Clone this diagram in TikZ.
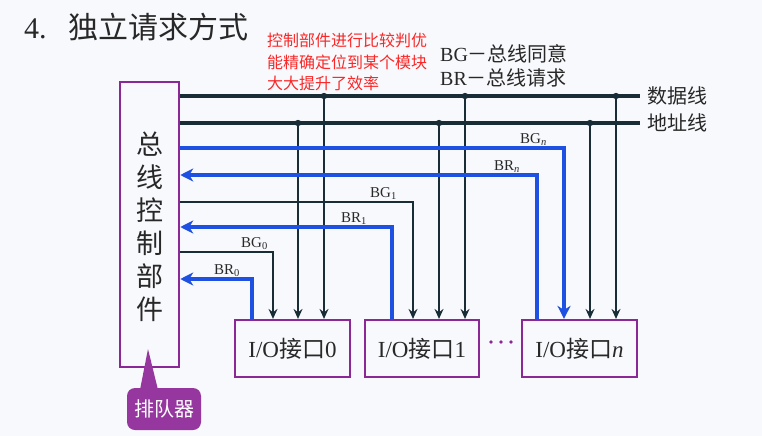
\documentclass[tikz,border=0pt]{standalone}
\usepackage{fontspec}
\setmainfont{Liberation Serif}
\newfontfamily\cjk{Noto Sans CJK SC}
\usetikzlibrary{arrows.meta}
\definecolor{bgc}{RGB}{248,249,252}
\definecolor{purp}{RGB}{140,40,150}
\definecolor{calc}{RGB}{150,55,160}
\definecolor{lineblk}{RGB}{25,45,55}
\definecolor{sigblue}{RGB}{30,80,225}
\definecolor{redc}{RGB}{250,40,40}
\definecolor{txt}{RGB}{40,40,40}
\tikzset{
  blkt/.tip={Stealth[length=10pt,width=9pt,inset=3.5pt]},
  blut/.tip={Stealth[length=13pt,width=13pt,inset=4pt]},
  bus/.style={line width=3.6pt,draw=lineblk},
  sig/.style={line width=1.8pt,draw=lineblk,-blkt},
  blu/.style={line width=4.2pt,draw=sigblue,-blut},
  iobox/.style={draw=purp,line width=2.2pt,minimum height=57pt,inner sep=0pt,
    font=\fontsize{23}{23}\selectfont,text=txt},
  siglab/.style={anchor=base east,inner sep=0pt,font=\fontsize{15}{15}\selectfont,text=txt},
  leg/.style={anchor=base west,inner sep=0pt,font=\fontsize{20}{20}\selectfont,text=txt},
  note/.style={anchor=base west,inner sep=0pt,font=\cjk\fontsize{16}{16}\selectfont,text=redc},
  dot/.style={fill=lineblk}
}
\begin{document}
\begin{tikzpicture}[x=1pt,y=-1pt]
\fill[bgc] (0,0) rectangle (762,436);
\useasboundingbox (0,0) rectangle (762,436);

% title
\node[anchor=base west,inner sep=0pt,font=\fontsize{30}{30}\selectfont,text=txt] (title) at (24,39)
  {4.\hspace{22pt}{\cjk 独立请求方式}};

% red note
\node[note] (note1) at (267,47) {控制部件进行比较判优};
\node[note] (note2) at (267,68) {能精确定位到某个模块};
\node[note] (note3) at (267,89) {大大提升了效率};

% legend
\node[leg] (legbg) at (440,61) {BG{\cjk －总线同意}};
\node[leg] (legbr) at (440,85) {BR{\cjk －总线请求}};

% controller
\node[draw=purp,line width=2.5pt,minimum width=59pt,minimum height=285pt,inner sep=0pt] (ctl) at (149.5,224.5) {};
\node[align=center,inner sep=0pt,font=\cjk\fontsize{27}{33}\selectfont,text=txt] (ctltext) at (149.5,227)
  {总\\线\\控\\制\\部\\件};

% I/O boxes
\node[iobox,minimum width=115pt] (box0) at (292.5,348.5) {I/O{\cjk 接口}0};
\node[iobox,minimum width=114pt] (box1) at (422,348.5) {I/O{\cjk 接口}1};
\node[iobox,minimum width=115pt] (boxn) at (579.5,348.5) {I/O{\cjk 接口}\textit{n}};
\fill[purp] (491,342) circle (1.8) (501,342) circle (1.8) (511,342) circle (1.8);

% buses
\coordinate (dR) at (640,96);
\coordinate (aR) at (640,123);
\draw[bus] (ctl.east |- dR) -- (dR);
\draw[bus] (ctl.east |- aR) -- (aR);
\node[anchor=west,inner sep=0pt,font=\cjk\fontsize{20}{20}\selectfont,text=txt] (dlab) at ([xshift=7pt]dR) {数据线};
\node[anchor=west,inner sep=0pt,font=\cjk\fontsize{20}{20}\selectfont,text=txt] (alab) at ([xshift=7pt]aR) {地址线};

% bus taps
\coordinate (ja0) at (298,123);
\coordinate (jd0) at (324,96);
\coordinate (ja1) at (439,123);
\coordinate (jd1) at (465,96);
\coordinate (jan) at (590,123);
\coordinate (jdn) at (616,96);
\foreach \j/\b in {ja0/box0,jd0/box0,ja1/box1,jd1/box1,jan/boxn,jdn/boxn}{
  \draw[sig] (\j) -- (\j |- \b.north);
  \fill[lineblk] (\j) circle (3.2);
}

% grant / request lines
\coordinate (bgn) at (564,148);
\coordinate (brn) at (537,175);
\coordinate (bg1) at (413,202);
\coordinate (br1) at (392,227);
\coordinate (bg0) at (273,252);
\coordinate (br0) at (252,279);

\draw[blu] (ctl.east |- bgn) -| (bgn |- boxn.north);
\draw[blu] (brn |- boxn.north) |- (ctl.east |- brn);
\draw[sig] (ctl.east |- bg1) -| (bg1 |- box1.north);
\draw[blu] (br1 |- box1.north) |- (ctl.east |- br1);
\draw[sig] (ctl.east |- bg0) -| (bg0 |- box0.north);
\draw[blu] (br0 |- box0.north) |- (ctl.east |- br0);

\node[siglab] (lbgn) at ([xshift=-17pt,yshift=5pt]bgn) {BG\textsubscript{\textit{n}}};
\node[siglab] (lbrn) at ([xshift=-17pt,yshift=5pt]brn) {BR\textsubscript{\textit{n}}};
\node[siglab] (lbg1) at ([xshift=-16pt,yshift=5pt]bg1) {BG\textsubscript{1}};
\node[siglab] (lbr1) at ([xshift=-25pt,yshift=5pt]br1) {BR\textsubscript{1}};
\node[siglab] (lbg0) at ([xshift=-5pt,yshift=5pt]bg0) {BG\textsubscript{0}};
\node[siglab] (lbr0) at ([xshift=-12pt,yshift=5pt]br0) {BR\textsubscript{0}};

% queue callout
\node[fill=calc,rounded corners=8pt,minimum width=74pt,minimum height=42pt,inner sep=0pt,
  text=white,font=\cjk\fontsize{20}{20}\selectfont] (queue) at (164,409) {排队器};
\fill[calc] ([xshift=-24pt,yshift=-2pt]queue.north) -- (148,349) -- ([xshift=-6pt,yshift=-2pt]queue.north) -- cycle;
\end{tikzpicture}
\end{document}
